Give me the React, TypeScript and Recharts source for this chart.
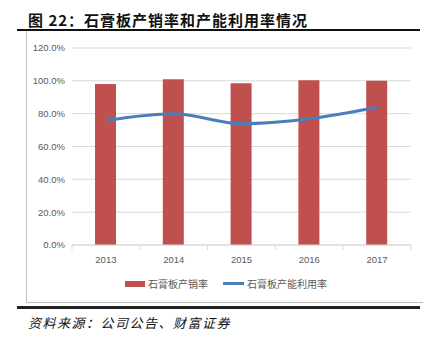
import React from 'react';
import { ComposedChart, XAxis, YAxis, CartesianGrid, Bar, Line } from 'recharts';

const years = ['2013', '2014', '2015', '2016', '2017'];
const salesRate = [98.0, 100.9, 98.5, 100.3, 100.1];
const capacityRate = [75.9, 80.0, 73.9, 76.9, 83.9];
const yTicks = [0, 20, 40, 60, 80, 100, 120];

const BAR_NAME = '石膏板产销率';
const LINE_NAME = '石膏板产能利用率';
const BAR_COLOR = '#c0504d';
const LINE_COLOR = '#4a7ebb';
const GRID = '#d9d9d9';
const TEXT = '#595959';
const CJK = '"Noto Sans CJK SC", "Noto Sans", sans-serif';

const data = years.map((year, i) => ({
  year,
  [BAR_NAME]: salesRate[i],
  [LINE_NAME]: capacityRate[i],
}));

const XTick = (props: any) => {
  const { x, y, payload, index } = props;
  const band = 339 / years.length;
  return (
    <g>
      {index === 0 && <line x1={x - band / 2} x2={x - band / 2} y1={y - 8} y2={y - 3} stroke={GRID} />}
      <line x1={x + band / 2} x2={x + band / 2} y1={y - 8} y2={y - 3} stroke={GRID} />
      <text x={x} y={y + 10} textAnchor="middle" fill={TEXT} fontSize={9.5} fontFamily="Liberation Sans, Arial, sans-serif">
        {payload.value}
      </text>
    </g>
  );
};

const LegendBox = () => (
  <div
    style={{
      position: 'absolute', left: 0, top: 276, width: 452, display: 'flex', justifyContent: 'center', alignItems: 'center',
      fontFamily: CJK, fontSize: 10, color: TEXT, whiteSpace: 'nowrap',
    }}
  >
    <span style={{ display: 'inline-block', width: 20, height: 6, background: BAR_COLOR, marginRight: 3 }} />
    <span style={{ marginRight: 15 }}>{BAR_NAME}</span>
    <span style={{ display: 'inline-block', width: 21, height: 2.5, background: LINE_COLOR, marginRight: 3 }} />
    <span>{LINE_NAME}</span>
  </div>
);

export default function App() {
  return (
    <div style={{ position: 'relative', width: 432, height: 337, margin: -8, background: '#fff', overflow: 'hidden' }}>
      <div style={{ position: 'absolute', left: 28, top: 9, fontFamily: CJK, fontWeight: 700, fontSize: 15, letterSpacing: 1, color: '#111', whiteSpace: 'nowrap' }}>
        图 22：石膏板产销率和产能利用率情况
      </div>
      <div style={{ position: 'absolute', left: 17, top: 29, width: 403, height: 2, background: '#111' }} />
      <div style={{ position: 'absolute', left: 26, top: 31, width: 1, height: 271, background: '#bfbfbf' }} />
      <div style={{ position: 'absolute', left: 26, top: 302, width: 397, height: 1, background: '#bfbfbf' }} />
      <div style={{ position: 'absolute', left: 17, top: 306, width: 403, height: 2.5, background: '#222' }} />
      <div style={{ position: 'absolute', left: 28, top: 313, fontFamily: CJK, fontStyle: 'italic', fontSize: 13, letterSpacing: 1.5, color: '#111', whiteSpace: 'nowrap' }}>
        资料来源：公司公告、财富证券
      </div>
      <div style={{ position: 'absolute', left: 0, top: 0 }}>
        <ComposedChart width={432} height={300} data={data} margin={{ top: 48, right: 21, left: 0, bottom: 35 }}>
          <CartesianGrid stroke={GRID} vertical={false} />
          <XAxis dataKey="year" height={20} axisLine={{ stroke: GRID }} tickLine={false} tick={<XTick />} interval={0} />
          <YAxis
            width={72}
            domain={[0, 120]}
            ticks={yTicks}
            axisLine={false}
            tickLine={false}
            tickMargin={1}
            tick={{ fill: TEXT, fontSize: 9.5, fontFamily: 'Liberation Sans, Arial, sans-serif' }}
            tickFormatter={(v: number) => `${v.toFixed(1)}%`}
          />
          <Bar dataKey={BAR_NAME} fill={BAR_COLOR} barSize={21} isAnimationActive={false} />
          <Line type="monotone" dataKey={LINE_NAME} stroke={LINE_COLOR} strokeWidth={3} dot={false} isAnimationActive={false} />
        </ComposedChart>
      </div>
      <LegendBox />
    </div>
  );
}
